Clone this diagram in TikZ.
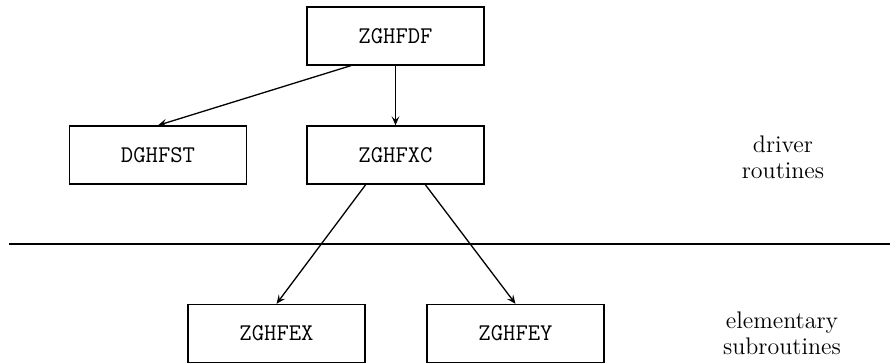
\documentclass[tikz,border=0pt]{standalone}
\usetikzlibrary{arrows.meta,calc}
\begin{document}
\begin{tikzpicture}[x=0.5pt,y=-0.5pt,
  every node/.style={font=\fontsize{12}{13}\selectfont},
  routine/.style={draw,line width=0.65pt,minimum width=88.5pt,minimum height=29pt,inner sep=0pt,font=\fontsize{12}{13}\selectfont\ttfamily},
  lbl/.style={align=center,inner sep=0pt},
  call/.style={line width=0.65pt,-{Stealth[length=4.5pt,width=3.8pt,inset=1.8pt]}},
  sep/.style={line width=0.65pt}]
\useasboundingbox (0,0) rectangle (890,363);
\node[routine] (DF) at (395.5,36) {ZGHFDF};
\node[routine] (ST) at (158,155) {DGHFST};
\node[routine] (XC) at (395.5,155) {ZGHFXC};
\node[routine] (EX) at (276.5,333.5) {ZGHFEX};
\node[routine] (EY) at (515.5,333.5) {ZGHFEY};
\node[lbl] (drv) at (783,157) {driver\\routines};
\node[lbl] (elm) at (782,333) {elementary\\subroutines};
\coordinate (L) at (9,244);
\coordinate (R) at (890,244);
\draw[sep] (L) -- (R);
\draw[call] ($(DF.south west)!0.25!(DF.south east)$) -- (ST.north);
\draw[call] (DF.south) -- (XC.north);
\draw[call] ($(XC.south west)!0.333!(XC.south east)$) -- (EX.north);
\draw[call] ($(XC.south west)!0.667!(XC.south east)$) -- (EY.north);
\end{tikzpicture}
\end{document}
